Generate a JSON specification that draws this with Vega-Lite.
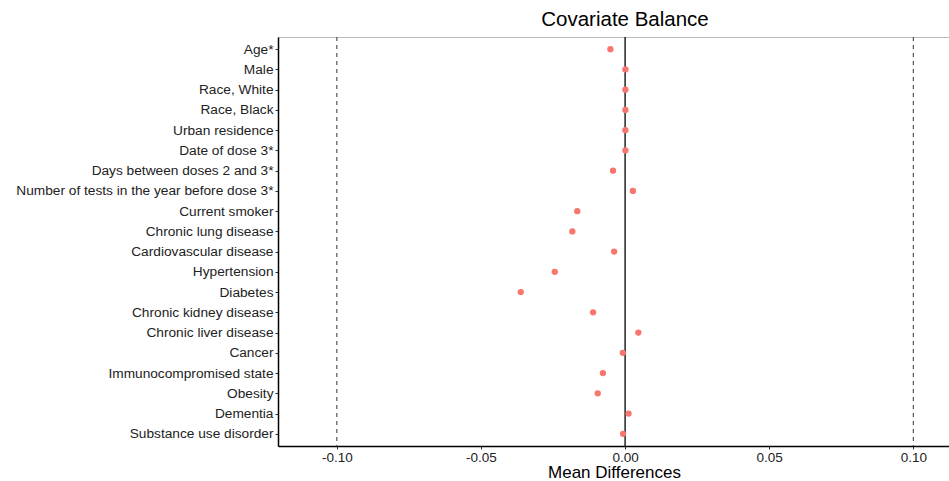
{
  "$schema": "https://vega.github.io/schema/vega-lite/v6.json",
  "autosize": "none",
  "padding": {"left": 278, "top": 37, "right": 0, "bottom": 35},
  "width": 672,
  "height": 409,
  "background": "white",
  "config": {
    "view": {"stroke": "#bbbbbb", "strokeWidth": 1},
    "font": "Liberation Sans"
  },
  "title": {
    "text": "Covariate Balance",
    "fontSize": 20.5,
    "fontWeight": "normal",
    "font": "Liberation Sans",
    "color": "black",
    "anchor": "middle",
    "dx": 11,
    "offset": 6
  },
  "data": {
    "values": [
      {"covariate": "Age*", "diff": -0.0051},
      {"covariate": "Male", "diff": 0.0001},
      {"covariate": "Race, White", "diff": 0.0001},
      {"covariate": "Race, Black", "diff": 0.0001},
      {"covariate": "Urban residence", "diff": 0.0001},
      {"covariate": "Date of dose 3*", "diff": 0.0001},
      {"covariate": "Days between doses 2 and 3*", "diff": -0.0042},
      {"covariate": "Number of tests in the year before dose 3*", "diff": 0.0027},
      {"covariate": "Current smoker", "diff": -0.0166},
      {"covariate": "Chronic lung disease", "diff": -0.0183},
      {"covariate": "Cardiovascular disease", "diff": -0.0038},
      {"covariate": "Hypertension", "diff": -0.0244},
      {"covariate": "Diabetes", "diff": -0.0362},
      {"covariate": "Chronic kidney disease", "diff": -0.0111},
      {"covariate": "Chronic liver disease", "diff": 0.0046},
      {"covariate": "Cancer", "diff": -0.0008},
      {"covariate": "Immunocompromised state", "diff": -0.0077},
      {"covariate": "Obesity", "diff": -0.0095},
      {"covariate": "Dementia", "diff": 0.0012},
      {"covariate": "Substance use disorder", "diff": -0.0007}
    ]
  },
  "layer": [
    {
      "data": {"values": [{"ref": -0.1}, {"ref": 0.1}]},
      "mark": {"type": "rule", "color": "#555555", "strokeDash": [4, 4], "strokeWidth": 1.2},
      "encoding": {"x": {"field": "ref", "type": "quantitative"}}
    },
    {
      "data": {"values": [{"ref": 0}]},
      "mark": {"type": "rule", "color": "black", "strokeWidth": 1.3},
      "encoding": {"x": {"field": "ref", "type": "quantitative"}}
    },
    {
      "mark": {"type": "circle", "color": "#F8766D", "opacity": 1, "size": 40},
      "encoding": {
        "x": {
          "field": "diff",
          "type": "quantitative",
          "scale": {"domain": [-0.1204, 0.1127], "nice": false, "zero": false},
          "axis": {
            "title": "Mean Differences",
            "titleFontSize": 17,
            "titleFontWeight": "normal",
            "titleColor": "black",
            "titlePadding": 1,
            "values": [-0.1, -0.05, 0, 0.05, 0.1],
            "labelExpr": "datum.value < 0 ? '-' + format(-datum.value, '.2f') : format(datum.value, '.2f')",
            "labelFontSize": 13.5,
            "labelColor": "#222222",
            "labelPadding": 1,
            "tickColor": "#333333",
            "tickSize": 3,
            "domainColor": "black",
            "domainWidth": 1.5,
            "grid": false
          }
        },
        "y": {
          "field": "covariate",
          "type": "nominal",
          "sort": null,
          "scale": {"type": "point", "padding": 0.6},
          "axis": {
            "title": null,
            "labelFontSize": 13.7,
            "labelLimit": 400,
            "labelColor": "#222222",
            "labelPadding": 2,
            "tickColor": "#333333",
            "tickSize": 3,
            "domainColor": "black",
            "domainWidth": 1.5,
            "grid": false
          }
        }
      }
    }
  ]
}
